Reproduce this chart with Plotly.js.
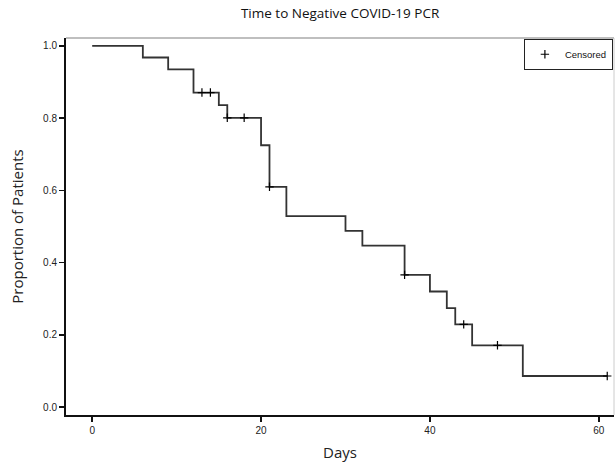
<!DOCTYPE html>
<html>
<head>
<meta charset="utf-8">
<script src="https://cdn.plot.ly/plotly-3.0.1.min.js"></script>
<style>html,body{margin:0;padding:0;background:#fff;}#chart{width:615px;height:464px;}</style>
</head>
<body>
<div id="chart"></div>
<script>
// Kaplan-Meier step times and survival proportions
var stepDays = [0, 6, 9, 12, 15, 16, 20, 21, 23, 30, 32, 37, 40, 42, 43, 45, 51, 61];
var stepProp = [1.0, 0.968, 0.935, 0.871, 0.836, 0.801, 0.725, 0.610, 0.529, 0.488, 0.447, 0.366, 0.320, 0.274, 0.229, 0.171, 0.086, 0.086];
// Censored observations
var censDays = [13, 14, 16, 18, 21, 37, 44, 48, 61];
var censProp = [0.871, 0.871, 0.801, 0.801, 0.610, 0.366, 0.229, 0.171, 0.086];
var xTicks = [0, 20, 40, 60];
var yTicks = [0.0, 0.2, 0.4, 0.6, 0.8, 1.0];

var narrow = "'Liberation Sans Narrow', 'Liberation Sans', Arial, sans-serif";
var traces = [
  {x: stepDays, y: stepProp, type: 'scatter', mode: 'lines', line: {shape: 'hv', color: '#333', width: 1.8}, showlegend: false, hoverinfo: 'skip'},
  {x: censDays, y: censProp, type: 'scatter', mode: 'markers', name: 'Censored',
   marker: {symbol: 'cross-thin', size: 6, color: '#000', line: {color: '#000', width: 1.2}}}
];
var layout = {
  width: 615, height: 464,
  margin: {l: 66, r: 1, t: 38, b: 49},
  paper_bgcolor: '#fff', plot_bgcolor: '#fff',
  title: {text: 'Time to Negative COVID-19 PCR', x: 0.553, xanchor: 'center', y: 0.972, yanchor: 'middle',
          font: {family: "'Open Sans', sans-serif", size: 13.5, color: '#111'}},
  xaxis: {range: [-3.1, 61.8], tickvals: xTicks, ticktext: xTicks.map(String), ticks: 'outside', ticklen: 5, tickwidth: 1.5, tickcolor: '#111',
          showgrid: false, zeroline: false, showline: true, linecolor: '#111', linewidth: 2,
          tickfont: {family: narrow, size: 10, color: '#222'},
          title: {text: 'Days', font: {family: "'Open Sans', sans-serif", size: 15, color: '#222'}, standoff: 12}},
  yaxis: {range: [-0.022, 1.022], tickvals: yTicks, ticktext: yTicks.map(function(v){return v.toFixed(1);}), ticks: 'outside', ticklen: 5, tickwidth: 1.5, tickcolor: '#111',
          showgrid: false, zeroline: false, showline: true, linecolor: '#111', linewidth: 2,
          tickfont: {family: narrow, size: 10, color: '#222'},
          title: {text: 'Proportion of Patients', font: {family: "'Open Sans', sans-serif", size: 15, color: '#222'}, standoff: 16}},
  shapes: [
    {type: 'line', xref: 'paper', yref: 'paper', x0: 0, x1: 1, y0: 1, y1: 1, line: {color: '#aaa', width: 1.5}},
    {type: 'line', xref: 'paper', yref: 'paper', x0: 1, x1: 1, y0: 0, y1: 1, line: {color: '#ccc', width: 1}}
  ],
  legend: {x: 0.998, y: 0.998, xanchor: 'right', yanchor: 'top', bgcolor: '#fff', bordercolor: '#222', borderwidth: 1,
           font: {family: narrow, size: 9.5, color: '#111'}, itemwidth: 30, tracegroupgap: 0}
};
Plotly.newPlot('chart', traces, layout, {displayModeBar: false, staticPlot: true});
</script>
</body>
</html>
